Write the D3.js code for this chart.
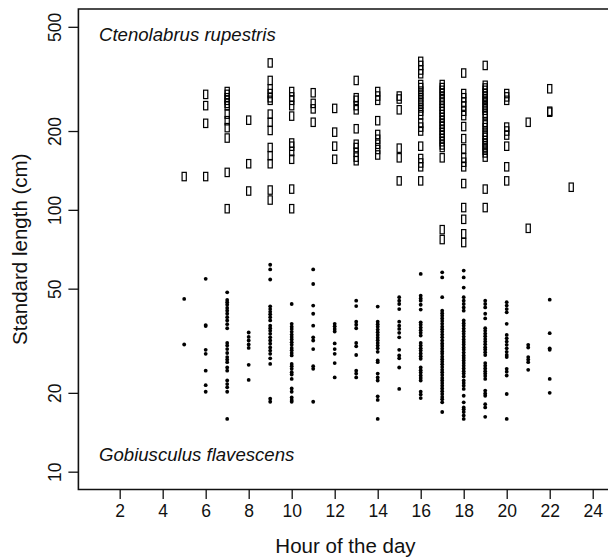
<!DOCTYPE html>
<html>
<head>
<meta charset="utf-8">
<script src="https://cdn.jsdelivr.net/npm/d3@7/dist/d3.min.js"></script>
<style>
  html, body { margin: 0; padding: 0; background: #fff; overflow: hidden; }
  svg { display: block; font-family: "Liberation Sans", Arial, Helvetica, sans-serif; }
</style>
</head>
<body>
<svg id="chart" width="608" height="557"></svg>
<script>
// ---- data ----
const hours = [5, 6, 7, 8, 9, 10, 11, 12, 13, 14, 15, 16, 17, 18, 19, 20, 21, 22, 23];

// Ctenolabrus rupestris standard lengths per hour (open rectangles)
const ctenoLengths = [
  [134],
  [276, 250, 214, 134],
  [283, 276, 268, 262, 255, 250, 232, 219, 206, 188, 139, 101],
  [220, 150, 118],
  [364, 312, 290, 278, 268, 262, 232, 216, 201, 173, 161, 150, 119, 109],
  [283, 270, 262, 250, 228, 180, 175, 167, 156, 120, 101],
  [280, 255, 243, 216],
  [244, 198, 175, 156],
  [312, 268, 262, 250, 241, 204, 178, 173, 166, 159, 154],
  [283, 272, 262, 219, 194, 186, 178, 170, 162],
  [272, 265, 241, 172, 158, 129],
  [369, 356, 342, 331, 301, 293, 284, 276, 268, 260, 253, 245, 238, 231, 214, 207, 200, 175, 157, 151, 146, 129],
  [301, 293, 286, 278, 270, 263, 256, 249, 243, 237, 231, 225, 219, 213, 208, 202, 197, 192, 187, 182, 177, 173, 158, 84, 77],
  [333, 278, 268, 258, 249, 238, 229, 208, 187, 171, 158, 152, 146, 126, 102, 92, 81, 75],
  [356, 299, 292, 286, 279, 272, 266, 262, 256, 250, 245, 240, 234, 229, 216, 211, 206, 198, 193, 189, 184, 180, 176, 173, 169, 165, 159, 120, 102],
  [278, 270, 262, 207, 200, 193, 175, 146, 129],
  [216, 85],
  [290, 238, 236],
  [122]
];

// Gobiusculus flavescens standard lengths per hour (filled dots)
const gobiusLengths = [
  [45.7, 30.6],
  [54.5, 36.3, 36.0, 29.2, 28.2, 24.3, 21.4, 20.2],
  [48.4, 45.3, 44.4, 43.4, 42.2, 41.2, 40.1, 38.9, 37.8, 36.6, 35.3, 31.0, 30.3, 29.4, 28.4, 27.4, 26.8, 26.2, 25.0, 24.3, 22.3, 21.6, 21.0, 20.2, 15.9],
  [34.0, 32.7, 31.7, 30.6, 29.7, 25.6, 22.4],
  [61.7, 59.2, 54.2, 42.8, 41.8, 40.8, 39.9, 38.9, 37.8, 36.1, 35.3, 34.5, 33.6, 32.6, 31.7, 30.8, 29.8, 29.0, 28.2, 27.1, 25.8, 19.0, 18.5],
  [43.7, 36.7, 35.8, 35.1, 34.2, 33.4, 32.7, 32.0, 31.2, 30.5, 29.7, 29.1, 28.4, 27.8, 25.8, 25.3, 24.7, 24.0, 23.5, 22.6, 20.8, 20.2, 19.2, 18.8, 18.5],
  [59.2, 52.1, 43.1, 40.1, 36.1, 32.6, 31.7, 29.4, 25.3, 24.7, 18.5],
  [36.7, 35.9, 35.1, 34.3, 30.9, 29.4, 28.2, 26.0, 22.9],
  [45.0, 42.9, 37.4, 36.4, 35.3, 31.0, 30.1, 27.9, 24.3, 23.7, 22.9],
  [42.7, 37.4, 36.6, 35.8, 34.9, 34.1, 33.3, 32.5, 31.8, 31.0, 30.3, 29.6, 28.7, 26.6, 26.2, 23.7, 22.9, 22.3, 19.4, 18.8, 15.9],
  [46.4, 45.0, 43.7, 41.8, 37.4, 36.1, 35.1, 33.9, 32.6, 29.2, 27.8, 27.1, 25.0, 20.7],
  [56.9, 47.0, 45.9, 45.0, 43.4, 41.6, 37.2, 36.4, 35.5, 34.7, 33.9, 33.1, 31.0, 30.3, 29.6, 29.0, 28.3, 27.6, 27.0, 25.0, 24.4, 23.9, 23.3, 22.8, 22.3, 20.2, 19.7, 19.1],
  [57.7, 55.2, 46.4, 41.2, 40.3, 39.4, 38.5, 37.6, 36.7, 35.8, 35.0, 34.2, 33.4, 32.6, 31.7, 30.9, 30.2, 29.5, 28.8, 28.2, 27.5, 26.9, 26.3, 25.7, 25.1, 24.5, 24.0, 23.4, 22.8, 22.3, 21.8, 21.3, 20.8, 20.3, 19.8, 19.3, 18.9, 18.4, 16.9],
  [58.6, 55.2, 50.5, 46.4, 45.0, 43.7, 42.4, 41.2, 37.8, 36.9, 36.1, 35.2, 34.4, 33.6, 32.8, 32.0, 31.3, 30.6, 29.8, 29.2, 28.5, 27.8, 27.2, 26.6, 26.0, 25.4, 24.8, 24.2, 23.7, 23.1, 22.3, 21.8, 21.3, 20.7, 19.5, 18.4, 17.6, 17.3, 16.9, 16.4, 15.9],
  [45.0, 43.7, 42.4, 40.1, 38.5, 35.3, 34.5, 33.7, 32.9, 32.1, 31.4, 30.7, 29.9, 29.3, 28.6, 27.9, 26.0, 25.4, 24.8, 24.2, 23.7, 23.2, 22.6, 20.4, 19.9, 19.5, 18.1, 17.6, 16.2],
  [44.4, 43.1, 41.8, 40.6, 36.7, 33.3, 32.3, 31.4, 30.5, 29.6, 28.7, 27.9, 27.4, 24.7, 24.1, 23.3, 19.8, 15.9],
  [30.5, 29.8, 27.4, 26.8, 26.2, 24.5],
  [45.4, 33.8, 29.6, 29.2, 22.6, 20.0],
  []
];

const xTicks = [2, 4, 6, 8, 10, 12, 14, 16, 18, 20, 22, 24];
const yTicks = [10, 20, 50, 100, 200, 500];
const xDomain = [0.08, 24.92];
const yDomain = [8.55, 584.8];
const xTitle = "Hour of the day";
const yTitle = "Standard length (cm)";
const speciesTop = "Ctenolabrus rupestris";
const speciesBottom = "Gobiusculus flavescens";

// ---- layout ----
const svg = d3.select("#chart");
const plot = { left: 78.4, right: 612.5, top: 9, bottom: 489.5 };

const x = d3.scaleLinear().domain(xDomain).range([plot.left, plot.right]);
const y = d3.scaleLog().domain(yDomain).range([plot.bottom, plot.top]);

const flatten = (arr) => hours.flatMap((h, i) => arr[i].map(v => ({ h, v })));
const ctenoPts = flatten(ctenoLengths);
const gobiusPts = flatten(gobiusLengths);

// points: Gobiusculus dots
svg.append("g").selectAll("circle").data(gobiusPts).join("circle")
  .attr("cx", d => x(d.h)).attr("cy", d => y(d.v))
  .attr("r", 1.9).attr("fill", "#000");

// points: Ctenolabrus open rectangles
const rw = 4.2, rh = 8.4;
svg.append("g").selectAll("rect").data(ctenoPts).join("rect")
  .attr("x", d => x(d.h) - rw / 2).attr("y", d => y(d.v) - rh / 2)
  .attr("width", rw).attr("height", rh)
  .attr("fill", "none").attr("stroke", "#000").attr("stroke-width", 1.2);

// box (left, top, bottom; right edge lies outside the picture)
const boxRight = plot.right + 30;
svg.append("path")
  .attr("d", `M${boxRight},${plot.top}H${plot.left}V${plot.bottom}H${boxRight}`)
  .attr("fill", "none").attr("stroke", "#111").attr("stroke-width", 1.6);

// x axis
const xAxis = d3.axisBottom(x).tickValues(xTicks).tickSize(9.5).tickPadding(6).tickFormat(d3.format("d"));
const gx = svg.append("g").attr("transform", `translate(0,${plot.bottom})`).call(xAxis);
gx.select(".domain").remove();
gx.selectAll(".tick line").attr("stroke", "#111").attr("stroke-width", 1.3);
gx.selectAll(".tick text").attr("font-size", "17.5px").attr("fill", "#111")
  .attr("font-family", "Liberation Sans, Arial, sans-serif");

// y axis
const yAxis = d3.axisLeft(y).tickValues(yTicks).tickSize(10).tickFormat(d3.format("d"));
const gy = svg.append("g").attr("transform", `translate(${plot.left},0)`).call(yAxis);
gy.select(".domain").remove();
gy.selectAll(".tick line").attr("stroke", "#111").attr("stroke-width", 1.3);
gy.selectAll(".tick text")
  .attr("font-size", "17.5px").attr("fill", "#111")
  .attr("font-family", "Liberation Sans, Arial, sans-serif")
  .attr("x", null).attr("dy", null)
  .attr("text-anchor", "middle")
  .attr("transform", "translate(-17,0) rotate(-90)");

// axis titles
svg.append("text")
  .attr("x", (plot.left + plot.right) / 2).attr("y", 553)
  .attr("text-anchor", "middle").attr("font-size", "20.5px").attr("fill", "#111")
  .text(xTitle);

svg.append("text")
  .attr("transform", `translate(27,${(plot.top + plot.bottom) / 2}) rotate(-90)`)
  .attr("text-anchor", "middle").attr("font-size", "20.5px").attr("fill", "#111")
  .text(yTitle);

// species labels
svg.append("text")
  .attr("x", 99).attr("y", 41)
  .attr("font-size", "18.6px").attr("font-style", "italic").attr("fill", "#111")
  .text(speciesTop);

svg.append("text")
  .attr("x", 99).attr("y", 461)
  .attr("font-size", "18.6px").attr("font-style", "italic").attr("fill", "#111")
  .text(speciesBottom);
</script>
</body>
</html>
